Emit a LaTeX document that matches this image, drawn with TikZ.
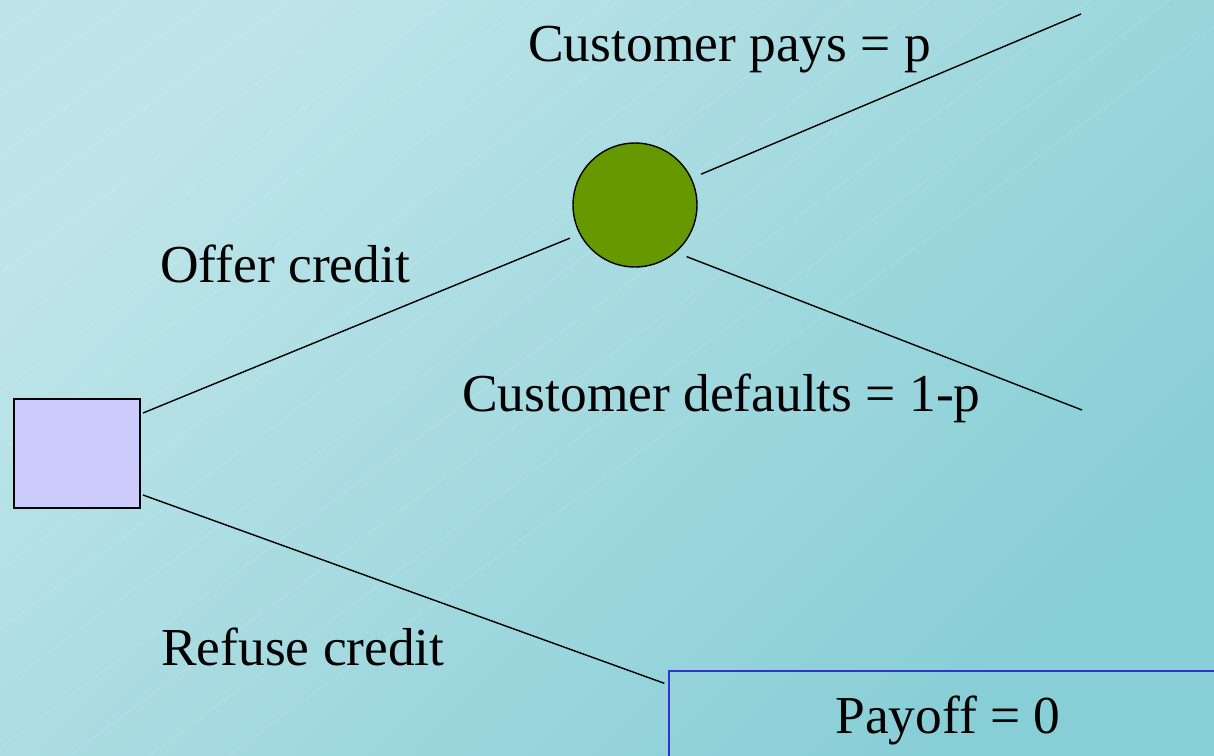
\documentclass[tikz,border=0pt]{standalone}
\usepackage{fontspec}
\setmainfont{Liberation Serif}
\usepackage{tikz}
\definecolor{bgTop}{HTML}{BEE5E9}
\definecolor{bgBot}{HTML}{88CED6}
\definecolor{decFill}{HTML}{CCCCFF}
\definecolor{chanceFill}{HTML}{669900}
\definecolor{payBlue}{HTML}{3333CC}
\begin{document}
\begin{tikzpicture}[x=0.02cm,y=-0.02cm]
	 \tikzstyle{hatch}=[draw,white,opacity=0.22,line width=0.3pt]
	 \tikzstyle{decision}=[rectangle,draw,line width=0.8pt,fill=decFill,minimum width=2.52cm,minimum height=2.18cm,outer sep=0.06cm]
	 \tikzstyle{chancenode}=[circle,draw,line width=0.8pt,fill=chanceFill,minimum size=2.48cm,outer sep=0.22cm]
	 \tikzstyle{payoffbox}=[rectangle,draw=payBlue,line width=0.8pt,minimum width=11.16cm,minimum height=1.76cm,text depth=0pt,inner sep=0pt,font=\fontsize{30.4}{36}\selectfont]
	 \tikzstyle{lbl}=[anchor=base west,inner sep=0pt,font=\fontsize{30.4}{36}\selectfont]
	 \tikzstyle{edge} = [draw,line width=0.8pt,-,black]
	 \useasboundingbox (0,0) rectangle (1214,755);
	 \clip (0,0) rectangle (1214,755);
	 \shade[top color=bgTop,bottom color=bgBot,shading angle=45] (0,0) rectangle (1214,755);
	 \foreach \k in {-13,...,15}
		 \draw[hatch] ({50+80*\k},0) -- ++(-1020,755);
	 \node[decision] (dec) at (77,453.5) {};
	 \node[chancenode] (chance) at (635,205) {};
	 \node[payoffbox] (payoff) at (948,715) {Payoff = 0};
	 \coordinate (paysEnd) at (1081,14);
	 \coordinate (defEnd) at (1082,410);
	 \node[lbl] (offer) at (160,282) {Offer credit};
	 \node[lbl] (refuse) at (161,665) {Refuse credit};
	 \node[lbl] (pays) at (528,61) {Customer pays = p};
	 \node[lbl] (defaults) at (462,411) {Customer defaults = 1-p};
	 \draw[edge] ([yshift=0.81cm]dec.east) -- (chance.207);
	 \draw[edge] ([yshift=-0.83cm]dec.east) -- ([shift={(-0.08cm,-0.26cm)}]payoff.north west);
	 \draw[edge] (chance.25) -- (paysEnd);
	 \draw[edge] (chance.315) -- (defEnd);
 \end{tikzpicture}
\end{document}
